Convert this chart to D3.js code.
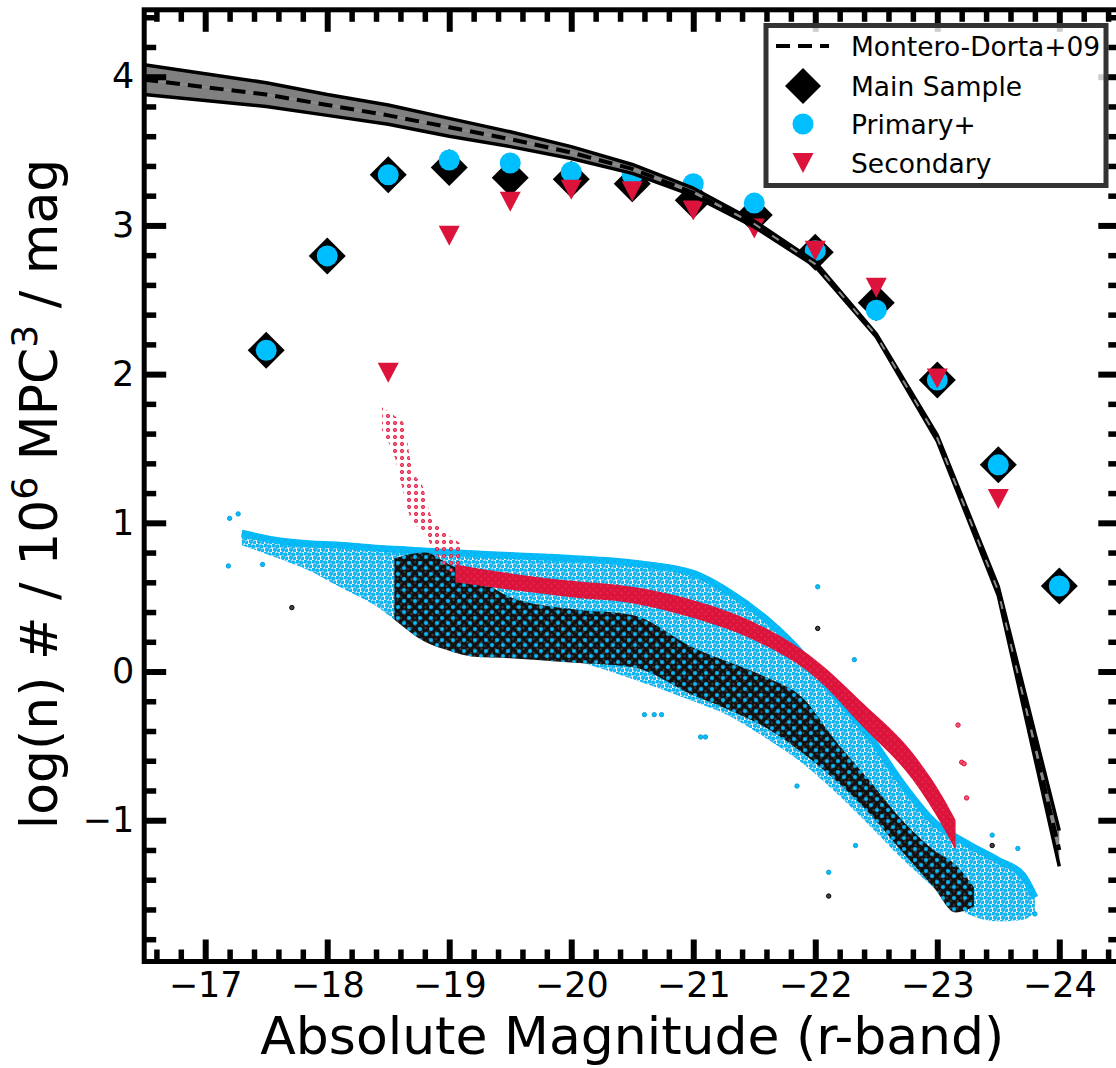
<!DOCTYPE html>
<html>
<head>
<meta charset="utf-8">
<script src="https://cdn.jsdelivr.net/npm/d3@7"></script>
<style>
  body { margin: 0; background: #fff; }
  text { font-family: "DejaVu Sans", sans-serif; }
</style>
</head>
<body>
<div id="chart"></div>
<script>
var svgWidth = 1116;
var svgHeight = 1068;

// plot frame in pixels
var frame = { left: 144.2, right: 1120.3, top: 9.8, bottom: 961.5 };

// Montero-Dorta+09 luminosity function (centre and band edges)
var mdMag = [-16.5, -17, -17.5, -18, -18.5, -19, -19.5, -20, -20.5, -21, -21.5, -22, -22.5, -23, -23.5, -24];
var mdLog = [3.98, 3.93, 3.88, 3.81, 3.74, 3.66, 3.58, 3.49, 3.38, 3.22, 3.01, 2.74, 2.26, 1.57, 0.54, -1.20];
var mdHi  = [4.08, 4.02, 3.96, 3.88, 3.81, 3.72, 3.63, 3.53, 3.41, 3.25, 3.03, 2.755, 2.27, 1.59, 0.57, -1.07];
var mdLo  = [3.88, 3.84, 3.80, 3.74, 3.68, 3.60, 3.53, 3.45, 3.35, 3.20, 2.99, 2.725, 2.25, 1.55, 0.51, -1.31];

// binned luminosity functions
var binMag = [-17.5, -18, -18.5, -19, -19.5, -20, -20.5, -21, -21.5, -22, -22.5, -23, -23.5, -24];
var mainLog = [2.16, 2.795, 3.34, 3.39, 3.32, 3.31, 3.28, 3.17, 3.07, 2.82, 2.48, 1.96, 1.39, 0.575];
var primaryLog = [2.16, 2.795, 3.34, 3.44, 3.42, 3.36, 3.34, 3.28, 3.15, 2.83, 2.43, 1.96, 1.39, 0.575];
var secondaryMag = [-18.5, -19, -19.5, -20, -20.5, -21, -21.5, -22, -22.5, -23, -23.5];
var secondaryLog = [2.01, 2.93, 3.16, 3.24, 3.23, 3.10, 2.98, 2.83, 2.58, 1.97, 1.16];

// per-galaxy scatter: envelopes of the dense clouds
var primCloudMag = [-17.3, -17.6, -17.85, -18.1, -18.4, -18.6, -19.0, -19.5, -20.0, -20.5, -21.0, -21.3, -21.6, -21.9, -22.15, -22.45, -22.7, -22.97, -23.25, -23.5, -23.7, -23.8];
var primCloudHi  = [0.95, 0.90, 0.88, 0.87, 0.85, 0.84, 0.82, 0.80, 0.78, 0.75, 0.68, 0.55, 0.37, 0.13, -0.13, -0.42, -0.72, -0.99, -1.14, -1.25, -1.35, -1.50];
var primCloudLo  = [0.85, 0.76, 0.68, 0.57, 0.44, 0.32, 0.22, 0.15, 0.08, -0.05, -0.20, -0.30, -0.45, -0.62, -0.80, -1.04, -1.25, -1.45, -1.63, -1.68, -1.67, -1.62];

var mainCloudMag = [-18.55, -18.8, -19.0, -19.2, -19.5, -20.0, -20.5, -21.0, -21.3, -21.6, -21.9, -22.15, -22.45, -22.7, -22.97, -23.15, -23.3];
var mainCloudHi  = [0.76, 0.80, 0.72, 0.64, 0.50, 0.42, 0.38, 0.16, 0.06, -0.04, -0.18, -0.45, -0.74, -0.99, -1.20, -1.30, -1.45];
var mainCloudLo  = [0.35, 0.20, 0.14, 0.10, 0.09, 0.06, 0.03, -0.16, -0.26, -0.38, -0.55, -0.72, -0.96, -1.20, -1.45, -1.62, -1.58];

var secCloudMag = [-19.05, -19.5, -20.0, -20.5, -21.0, -21.5, -22.0, -22.4, -22.8, -23.05, -23.15];
var secCloudHi  = [0.72, 0.66, 0.61, 0.57, 0.48, 0.33, 0.08, -0.22, -0.55, -0.85, -1.00];
var secCloudLo  = [0.60, 0.55, 0.50, 0.46, 0.36, 0.21, -0.04, -0.38, -0.73, -1.05, -1.20];

var secSpikeMag = [-18.45, -18.55, -18.62, -18.7, -18.78, -18.85, -18.95, -19.1];
var secSpikeHi  = [1.78, 1.72, 1.68, 1.35, 1.25, 1.05, 0.95, 0.86];
var secSpikeLo  = [1.60, 1.45, 1.22, 1.00, 0.95, 0.85, 0.72, 0.62];

// isolated scatter points outside the clouds
var primOutMag = [-17.19, -17.27, -17.47, -17.2, -20.6, -20.68, -20.74, -21.06, -21.1, -21.85, -22.02, -22.32, -22.33, -22.11, -23.45, -23.66, -23.8];
var primOutLog = [0.71, 1.06, 0.72, 1.03, -0.29, -0.29, -0.29, -0.44, -0.44, -0.77, 0.57, 0.08, -1.17, -1.35, -1.10, -1.19, -1.63];
var mainOutMag = [-17.71, -22.02, -22.11, -23.45];
var mainOutLog = [0.43, 0.29, -1.51, -1.17];
var secOutMag = [-23.17, -23.2, -23.24, -23.22];
var secOutLog = [-0.36, -0.61, -0.85, -0.62];

var legendLabels = ["Montero-Dorta+09", "Main Sample", "Primary+", "Secondary"];

var svg = d3.select("#chart")
  .append("svg")
  .attr("width", svgWidth)
  .attr("height", svgHeight);

var x = d3.scaleLinear().domain([-16.5, -24.5]).range([frame.left, frame.right]);
var y = d3.scaleLinear().domain([-1.95, 4.45]).range([frame.bottom, frame.top]);

var defs = svg.append("defs");
defs.append("clipPath").attr("id", "plotclip")
  .append("rect")
  .attr("x", frame.left).attr("y", frame.top)
  .attr("width", frame.right - frame.left).attr("height", frame.bottom - frame.top);

// dot textures standing in for the thousands of scatter markers
function dotPattern(id, size, base, spots, face, edge, r) {
  var p = defs.append("pattern").attr("id", id)
    .attr("patternUnits", "userSpaceOnUse")
    .attr("width", size).attr("height", size);
  if (base) p.append("rect").attr("width", size).attr("height", size).attr("fill", base);
  spots.forEach(function(s) {
    p.append("circle").attr("cx", s[0]).attr("cy", s[1]).attr("r", r)
      .attr("fill", face).attr("stroke", edge).attr("stroke-width", 0.8);
  });
}
dotPattern("blueDense", 7, "#00bfff", [[2, 2], [5.5, 5]], "none", "#1ea3d8", 1.3);
dotPattern("blueMid", 8, null, [[1.5, 1.5], [5.5, 2.5], [3, 5.8], [7.2, 6.8]], "#00bfff", "#18a0d6", 1.8);
dotPattern("blueSparse", 11, null, [[2, 2], [8, 7]], "#00bfff", "#1a9fd6", 1.8);
dotPattern("blackDots", 7, "#111", [[2, 2], [5.5, 5]], "#555", "#222", 1.0);
dotPattern("redDots", 7, "#dc143c", [[2, 2], [5.5, 5]], "#ea4d6a", "#dc143c", 0.9);
dotPattern("redSparse", 7, null, [[3, 3]], "#f05a78", "#dc143c", 1.7);

var plotArea = svg.append("g").attr("clip-path", "url(#plotclip)");

function band(mags, lo, hi) {
  return d3.area()
    .x(function(d, i) { return x(mags[i]); })
    .y0(function(d, i) { return y(lo[i]); })
    .y1(function(d, i) { return y(hi[i]); })
    .curve(d3.curveMonotoneX)(mags);
}
function edge(mags, vals) {
  return d3.line()
    .x(function(d, i) { return x(mags[i]); })
    .y(function(d, i) { return y(vals[i]); })
    .curve(d3.curveMonotoneX)(mags);
}

// scatter clouds
plotArea.append("path").attr("d", band(primCloudMag, primCloudLo, primCloudHi))
  .attr("fill", "url(#blueMid)");
plotArea.append("path").attr("d", edge(primCloudMag, primCloudHi))
  .attr("fill", "none").attr("stroke", "url(#blueDense)").attr("stroke-width", 7)
  .attr("transform", "translate(0,3)");
plotArea.append("path").attr("d", band(mainCloudMag, mainCloudLo, mainCloudHi))
  .attr("fill", "url(#blackDots)");
plotArea.append("path").attr("d", band(mainCloudMag, mainCloudLo, mainCloudHi))
  .attr("fill", "url(#blueSparse)");
plotArea.append("path").attr("d", band(secSpikeMag, secSpikeLo, secSpikeHi))
  .attr("fill", "url(#redSparse)");
plotArea.append("path").attr("d", band(secCloudMag, secCloudLo, secCloudHi))
  .attr("fill", "url(#redDots)");

function outliers(mags, vals, face, edgeCol) {
  plotArea.append("g").selectAll("circle")
    .data(mags)
    .enter()
    .append("circle")
    .attr("cx", function(d) { return x(d); })
    .attr("cy", function(d, i) { return y(vals[i]); })
    .attr("r", 2.2)
    .attr("fill", face)
    .attr("stroke", edgeCol)
    .attr("stroke-width", 1);
}
outliers(primOutMag, primOutLog, "#00bfff", "#1a9fd6");
outliers(mainOutMag, mainOutLog, "#444", "#000");
outliers(secOutMag, secOutLog, "#f05a78", "#dc143c");

// binned markers
function diamondPath(h) { return "M0," + (-h) + "L" + h + ",0L0," + h + "L" + (-h) + ",0Z"; }
function triDownPath(w, h) {
  return "M" + (-w / 2) + "," + (-h / 2) + "L" + (w / 2) + "," + (-h / 2) + "L0," + (h / 2) + "Z";
}

plotArea.append("g").selectAll("path")
  .data(binMag)
  .enter()
  .append("path")
  .attr("d", diamondPath(18.5))
  .attr("transform", function(d, i) { return "translate(" + x(d) + "," + y(mainLog[i]) + ")"; })
  .attr("fill", "#000");

plotArea.append("g").selectAll("circle")
  .data(binMag)
  .enter()
  .append("circle")
  .attr("cx", function(d) { return x(d); })
  .attr("cy", function(d, i) { return y(primaryLog[i]); })
  .attr("r", 10.5)
  .attr("fill", "#00bfff");

plotArea.append("g").selectAll("path")
  .data(secondaryMag)
  .enter()
  .append("path")
  .attr("d", triDownPath(21, 20))
  .attr("transform", function(d, i) { return "translate(" + x(d) + "," + y(secondaryLog[i]) + ")"; })
  .attr("fill", "#dc143c");

// Montero-Dorta band and dashed centre line
var mdLine = d3.line().x(function(d, i) { return x(mdMag[i]); });
plotArea.append("path")
  .attr("d", d3.area().x(function(d, i) { return x(mdMag[i]); })
    .y0(function(d, i) { return y(mdLo[i]); })
    .y1(function(d, i) { return y(mdHi[i]); })(mdMag))
  .attr("fill", "#808080");
[mdHi, mdLo].forEach(function(vals) {
  plotArea.append("path")
    .attr("d", mdLine.y(function(d, i) { return y(vals[i]); })(mdMag))
    .attr("fill", "none").attr("stroke", "#000").attr("stroke-width", 3.5)
    .attr("stroke-linejoin", "round");
});
plotArea.append("path")
  .attr("d", mdLine.y(function(d, i) { return y(mdLog[i]); })(mdMag))
  .attr("fill", "none").attr("stroke", "#8a8a8a").attr("stroke-width", 2);
plotArea.append("path")
  .attr("d", mdLine.y(function(d, i) { return y(mdLog[i]); })(mdMag))
  .attr("fill", "none").attr("stroke", "#000").attr("stroke-width", 4)
  .attr("stroke-dasharray", "14,8");

// axes: inward ticks on all four sides
function range(a, b, step) {
  var out = [];
  for (var v = a; v <= b + 1e-9; v += step) out.push(Math.round(v * 10) / 10);
  return out;
}
var xMajor = range(-24, -17, 1);
var xMinor = range(-24.4, -16.6, 0.2).filter(function(v) { return Math.abs(v - Math.round(v)) > 0.01; });
var yMajor = range(-1, 4, 1);
var yMinor = range(-1.8, 4.4, 0.2).filter(function(v) { return Math.abs(v - Math.round(v)) > 0.01; });

function styleAxis(g, w) {
  g.select(".domain").remove();
  g.selectAll(".tick line").attr("stroke", "#000").attr("stroke-width", w);
  g.selectAll(".tick text").attr("font-size", 35).attr("fill", "#000")
    .attr("font-family", "DejaVu Sans, sans-serif");
}

svg.append("g").attr("transform", "translate(0," + frame.bottom + ")")
  .call(d3.axisBottom(x).tickValues(xMajor).tickSize(-22).tickPadding(11).tickFormat(d3.format("d")))
  .call(styleAxis, 6);
svg.append("g").attr("transform", "translate(0," + frame.bottom + ")")
  .call(d3.axisBottom(x).tickValues(xMinor).tickSize(-12).tickFormat(""))
  .call(styleAxis, 5.5);
svg.append("g").attr("transform", "translate(0," + frame.top + ")")
  .call(d3.axisTop(x).tickValues(xMajor).tickSize(-22).tickFormat(""))
  .call(styleAxis, 6);
svg.append("g").attr("transform", "translate(0," + frame.top + ")")
  .call(d3.axisTop(x).tickValues(xMinor).tickSize(-12).tickFormat(""))
  .call(styleAxis, 5.5);
svg.append("g").attr("transform", "translate(" + frame.left + ",0)")
  .call(d3.axisLeft(y).tickValues(yMajor).tickSize(-22).tickPadding(10).tickFormat(d3.format("d")))
  .call(styleAxis, 6);
svg.append("g").attr("transform", "translate(" + frame.left + ",0)")
  .call(d3.axisLeft(y).tickValues(yMinor).tickSize(-12).tickFormat(""))
  .call(styleAxis, 5.5);
svg.append("g").attr("transform", "translate(" + frame.right + ",0)")
  .call(d3.axisRight(y).tickValues(yMajor).tickSize(-22).tickFormat(""))
  .call(styleAxis, 6);
svg.append("g").attr("transform", "translate(" + frame.right + ",0)")
  .call(d3.axisRight(y).tickValues(yMinor).tickSize(-12).tickFormat(""))
  .call(styleAxis, 5.5);

svg.append("rect")
  .attr("x", frame.left).attr("y", frame.top)
  .attr("width", frame.right - frame.left).attr("height", frame.bottom - frame.top)
  .attr("fill", "none").attr("stroke", "#000").attr("stroke-width", 5);

// axis labels
svg.append("text")
  .attr("x", (frame.left + frame.right) / 2)
  .attr("y", 1054)
  .attr("text-anchor", "middle")
  .attr("font-size", 52)
  .text("Absolute Magnitude (r-band)");

var yLabel = svg.append("text")
  .attr("transform", "translate(57," + 494 + ") rotate(-90)")
  .attr("text-anchor", "middle")
  .attr("font-size", 52);
yLabel.append("tspan").text("log(n) # / 10");
yLabel.append("tspan").attr("font-size", 36).attr("dy", -20).text("6");
yLabel.append("tspan").attr("dy", 20).text(" MPC");
yLabel.append("tspan").attr("font-size", 36).attr("dy", -20).text("3");
yLabel.append("tspan").attr("dy", 20).text(" / mag");

// legend
var legend = svg.append("g");
legend.append("rect")
  .attr("x", 766).attr("y", 25.5).attr("width", 340).attr("height", 160)
  .attr("fill", "#fff").attr("fill-opacity", 0.8)
  .attr("stroke", "#333").attr("stroke-width", 5);
var rowY = [46, 86, 124, 163];
legend.append("line")
  .attr("x1", 776).attr("x2", 829).attr("y1", rowY[0]).attr("y2", rowY[0])
  .attr("stroke", "#000").attr("stroke-width", 4).attr("stroke-dasharray", "14,8");
legend.append("path").attr("d", diamondPath(18))
  .attr("transform", "translate(803," + rowY[1] + ")").attr("fill", "#000");
legend.append("circle").attr("cx", 803).attr("cy", rowY[2]).attr("r", 10.5).attr("fill", "#00bfff");
legend.append("path").attr("d", triDownPath(21, 20))
  .attr("transform", "translate(803," + rowY[3] + ")").attr("fill", "#dc143c");
legend.selectAll("text.lab")
  .data(legendLabels)
  .enter()
  .append("text")
  .attr("class", "lab")
  .attr("x", 851)
  .attr("y", function(d, i) { return rowY[i] + 9.5; })
  .attr("font-size", 26.5)
  .text(function(d) { return d; });
</script>
</body>
</html>
